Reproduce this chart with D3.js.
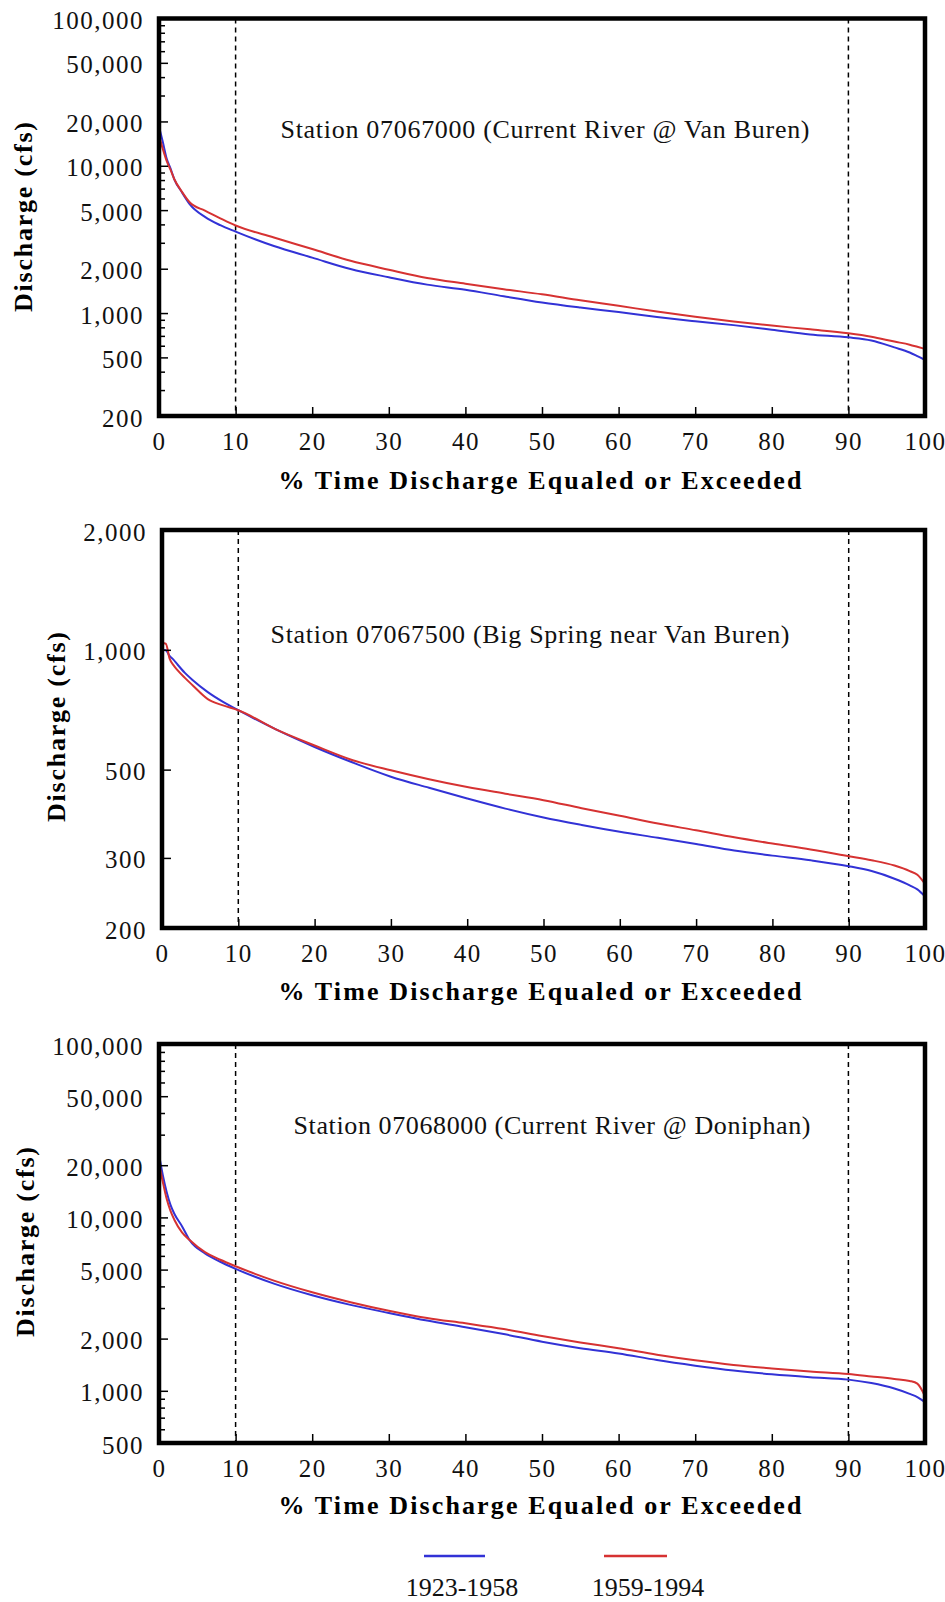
<!DOCTYPE html>
<html>
<head>
<meta charset="utf-8">
<script src="https://cdn.jsdelivr.net/npm/d3@7"></script>
<style>
  body { margin: 0; background: #fff; }
  svg { display: block; }
</style>
</head>
<body>
<svg id="chart" width="945" height="1602"></svg>
<script>
// ---------------- DATA ----------------
const percentExceeded = [0, 0.5, 1, 1.5, 2, 3, 4, 6, 8, 10, 15, 20, 25, 30, 35, 40, 45, 50, 55, 60, 65, 70, 75, 80, 85, 90, 93, 96, 98, 99, 100];

// Station 07067000 (Current River @ Van Buren)
const vanBuren_1923_1958 = [18400, 14500, 11200, 9600, 8100, 6600, 5500, 4500, 3950, 3570, 2850, 2380, 1990, 1750, 1560, 1440, 1300, 1180, 1090, 1015, 940, 880, 828, 771, 716, 684, 652, 585, 540, 510, 480];
const vanBuren_1959_1994 = [16000, 13000, 10800, 9400, 8100, 6650, 5650, 4960, 4400, 3930, 3260, 2720, 2265, 1970, 1730, 1582, 1452, 1340, 1220, 1120, 1023, 944, 877, 822, 775, 728, 690, 640, 610, 590, 570];

// Station 07067500 (Big Spring near Van Buren)
const bigSpring_1923_1958 = [1000, 997, 965, 945, 920, 875, 840, 783, 740, 705, 630, 570, 521, 480, 450, 423, 399, 379, 363, 349, 337, 325, 313, 304, 296, 286, 278, 266, 256, 250, 240];
const bigSpring_1959_1994 = [1040, 1036, 950, 915, 890, 850, 815, 752, 725, 705, 630, 575, 528, 498, 473, 452, 435, 419, 400, 383, 366, 352, 338, 326, 315, 303, 296, 287, 278, 272, 258];

// Station 07068000 (Current River @ Doniphan)
const doniphan_1923_1958 = [23000, 17500, 14000, 11800, 10500, 8900, 7400, 6200, 5550, 5050, 4150, 3556, 3130, 2812, 2541, 2328, 2123, 1920, 1762, 1643, 1504, 1396, 1308, 1245, 1198, 1160, 1108, 1030, 960, 920, 860];
const doniphan_1959_1994 = [20500, 16000, 12800, 10900, 9700, 8200, 7400, 6300, 5700, 5230, 4320, 3700, 3245, 2897, 2630, 2449, 2270, 2070, 1900, 1760, 1615, 1500, 1410, 1346, 1292, 1250, 1210, 1170, 1140, 1100, 930];

const xTickValues = [0, 10, 20, 30, 40, 50, 60, 70, 80, 90, 100];
const refLines = [10, 90];
const yTicksLarge = [100000, 50000, 20000, 10000, 5000, 2000, 1000, 500, 200];
const yTicksSpring = [2000, 1000, 500, 300, 200];
const yTicksDoniphan = [100000, 50000, 20000, 10000, 5000, 2000, 1000, 500];

const stationTitles = [
  "Station 07067000 (Current River @ Van Buren)",
  "Station 07067500 (Big Spring near Van Buren)",
  "Station 07068000 (Current River @ Doniphan)"
];
const seriesNames = ["1923-1958", "1959-1994"];
const yTitle = "Discharge (cfs)";
const xTitle = "% Time Discharge Equaled or Exceeded";

// ---------------- LAYOUT ----------------
const COLORS = ["#3232d6", "#d63232"];
const SERIF = "'Liberation Serif', 'Times New Roman', serif";

const panels = [
  { top: 18.5, bottom: 416, left: 159, right: 925, domain: [200, 100000], ticks: yTicksLarge, minor: true,
    series: [vanBuren_1923_1958, vanBuren_1959_1994], title: stationTitles[0],
    titleX: 545, titleY: 138, titleLen: 529,
    yTitleX: 32, yTitleY: 217, xTitleY: 489 },
  { top: 530, bottom: 928, left: 162, right: 925, domain: [200, 2000], ticks: yTicksSpring, minor: false,
    series: [bigSpring_1923_1958, bigSpring_1959_1994], title: stationTitles[1],
    titleX: 530, titleY: 643, titleLen: 519,
    yTitleX: 65, yTitleY: 727, xTitleY: 1000 },
  { top: 1044, bottom: 1443, left: 159, right: 925, domain: [500, 100000], ticks: yTicksDoniphan, minor: true,
    series: [doniphan_1923_1958, doniphan_1959_1994], title: stationTitles[2],
    titleX: 552, titleY: 1134, titleLen: 517,
    yTitleX: 34, yTitleY: 1242, xTitleY: 1514 }
];

const svg = d3.select("#chart");

panels.forEach(p => {
  const g = svg.append("g");
  const x = d3.scaleLinear().domain([0, 100]).range([p.left, p.right]);
  const y = d3.scaleLog().domain(p.domain).range([p.bottom, p.top]);

  // reference dashed lines
  g.selectAll("line.ref").data(refLines).enter().append("line")
    .attr("x1", d => x(d)).attr("x2", d => x(d))
    .attr("y1", p.top).attr("y2", p.bottom)
    .attr("stroke", "#000").attr("stroke-width", 1.5)
    .attr("stroke-dasharray", "5,4");

  // curves
  const line = d3.line()
    .x((d, i) => x(percentExceeded[i]))
    .y(d => y(d))
    .curve(d3.curveMonotoneX);
  p.series.forEach((s, k) => {
    g.append("path").datum(s)
      .attr("d", line)
      .attr("fill", "none")
      .attr("stroke", COLORS[k])
      .attr("stroke-width", 2);
  });

  // minor y ticks
  if (p.minor) {
    const minor = [];
    const lo = Math.floor(Math.log10(p.domain[0])), hi = Math.ceil(Math.log10(p.domain[1]));
    for (let e = lo; e <= hi; e++) {
      for (let m = 1; m <= 9; m++) {
        const v = m * Math.pow(10, e);
        if (v >= p.domain[0] && v <= p.domain[1] && !p.ticks.includes(v)) minor.push(v);
      }
    }
    g.append("g").attr("transform", `translate(${p.left},0)`)
      .call(d3.axisLeft(y).tickValues(minor).tickSizeInner(-6).tickSizeOuter(0).tickFormat(""))
      .call(a => a.select(".domain").remove())
      .call(a => a.selectAll("line").attr("stroke", "#000").attr("stroke-width", 1.5));
  }

  // major y ticks + labels
  g.append("g").attr("transform", `translate(${p.left},0)`)
    .call(d3.axisLeft(y).tickValues(p.ticks).tickSizeInner(-9).tickSizeOuter(0)
      .tickPadding(15).tickFormat(d3.format(",")))
    .call(a => a.select(".domain").remove())
    .call(a => a.selectAll("line").attr("stroke", "#000").attr("stroke-width", 1.5))
    .call(a => a.selectAll("text")
      .attr("font-family", SERIF).attr("font-size", 25)
      .attr("letter-spacing", "1.5px").attr("fill", "#111").attr("dy", "0.4em"));

  // x ticks + labels
  g.append("g").attr("transform", `translate(0,${p.bottom})`)
    .call(d3.axisBottom(x).tickValues(xTickValues).tickSizeInner(-9).tickSizeOuter(0).tickPadding(16))
    .call(a => a.select(".domain").remove())
    .call(a => a.selectAll("line").attr("stroke", "#000").attr("stroke-width", 1.5))
    .call(a => a.selectAll("text")
      .attr("font-family", SERIF).attr("font-size", 25)
      .attr("letter-spacing", "1.5px").attr("fill", "#111"));

  // frame
  g.append("rect")
    .attr("x", p.left).attr("y", p.top)
    .attr("width", p.right - p.left).attr("height", p.bottom - p.top)
    .attr("fill", "none").attr("stroke", "#000").attr("stroke-width", 4.5);

  // station title
  g.append("text")
    .attr("x", p.titleX).attr("y", p.titleY)
    .attr("text-anchor", "middle")
    .attr("font-family", SERIF).attr("font-size", 26).attr("fill", "#111")
    .attr("textLength", p.titleLen).attr("lengthAdjust", "spacing")
    .text(p.title);

  // y title
  g.append("text")
    .attr("transform", `translate(${p.yTitleX},${p.yTitleY}) rotate(-90)`)
    .attr("text-anchor", "middle")
    .attr("font-family", SERIF).attr("font-size", 26).attr("font-weight", "bold")
    .attr("textLength", 190).attr("lengthAdjust", "spacing")
    .text(yTitle);

  // x title
  g.append("text")
    .attr("x", 540).attr("y", p.xTitleY)
    .attr("text-anchor", "middle")
    .attr("font-family", SERIF).attr("font-size", 26).attr("font-weight", "bold")
    .attr("textLength", 523).attr("lengthAdjust", "spacing")
    .text(xTitle);
});

// ---------------- LEGEND ----------------
const legendItems = [
  { x1: 424, x2: 485, tx: 462 },
  { x1: 604, x2: 667, tx: 648 }
];
const lg = svg.append("g");
legendItems.forEach((it, k) => {
  lg.append("line")
    .attr("x1", it.x1).attr("x2", it.x2).attr("y1", 1556).attr("y2", 1556)
    .attr("stroke", COLORS[k]).attr("stroke-width", 2.5);
  lg.append("text")
    .attr("x", it.tx).attr("y", 1596).attr("text-anchor", "middle")
    .attr("font-family", SERIF).attr("font-size", 26).attr("fill", "#111")
    .text(seriesNames[k]);
});
</script>
</body>
</html>
